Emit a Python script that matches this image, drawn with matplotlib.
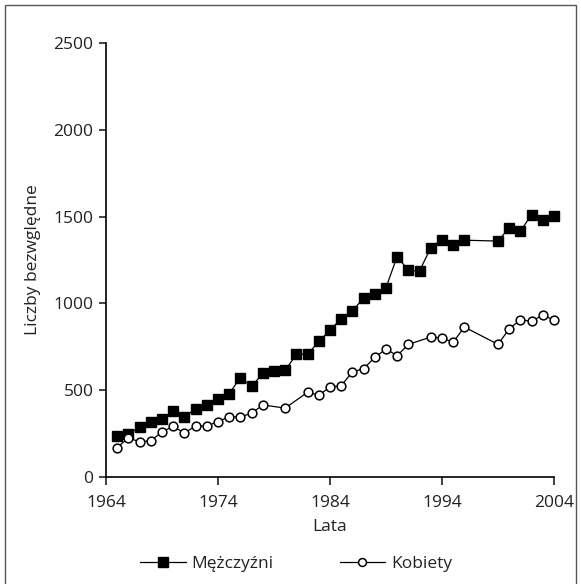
import matplotlib
matplotlib.use("Agg")
import matplotlib.pyplot as plt
from matplotlib.patches import Rectangle

plt.rcParams['font.family'] = ['Open Sans', 'DejaVu Sans']

men_years = [1965, 1966, 1967, 1968, 1969, 1970, 1971, 1972, 1973, 1974, 1975, 1976, 1977, 1978,
             1979, 1980, 1981, 1982, 1983, 1984, 1985, 1986, 1987, 1988, 1989, 1990, 1991, 1992,
             1993, 1994, 1995, 1996, 1999, 2000, 2001, 2002, 2003, 2004]
men_values = [238, 249, 286, 315, 332, 382, 347, 393, 413, 451, 480, 572, 522, 597,
              612, 614, 707, 707, 781, 845, 912, 958, 1029, 1055, 1091, 1270, 1190, 1187,
              1321, 1367, 1336, 1364, 1359, 1435, 1415, 1512, 1480, 1503]

women_years = [1965, 1966, 1967, 1968, 1969, 1970, 1971, 1972, 1973, 1974, 1975, 1976, 1977, 1978,
               1980, 1982, 1983, 1984, 1985, 1986, 1987, 1988, 1989, 1990, 1991,
               1993, 1994, 1995, 1996, 1999, 2000, 2001, 2002, 2003, 2004]
women_values = [169, 226, 202, 209, 259, 292, 253, 294, 294, 319, 347, 346, 367, 415,
                397, 488, 471, 518, 526, 605, 624, 689, 737, 699, 764,
                806, 801, 776, 864, 764, 853, 906, 897, 933, 904]

x_ticks = [1964, 1974, 1984, 1994, 2004]
y_ticks = [0, 500, 1000, 1500, 2000, 2500]

FS = 12.5

fig = plt.figure(figsize=(5.81, 5.84), dpi=100)
ax = fig.add_axes([0.1824, 0.1832, 0.9535 - 0.1824, 0.9264 - 0.1832])

ax.plot(men_years, men_values, color='black', lw=0.9, marker='s', ms=7.5,
        mfc='black', mec='black', label='Mężczyźni', clip_on=False)
ax.plot(women_years, women_values, color='black', lw=0.9, marker='o', ms=6.3,
        mfc='white', mec='black', mew=1.1, label='Kobiety', clip_on=False)

ax.set_xlim(1964, 2004)
ax.set_ylim(0, 2500)
ax.set_xticks(x_ticks)
ax.set_yticks(y_ticks)
for s in ['top', 'right']:
    ax.spines[s].set_visible(False)
for s in ['left', 'bottom']:
    ax.spines[s].set_linewidth(1.2)
ax.tick_params(axis='both', direction='out', length=5, width=1.2, labelsize=FS, colors='#222222', pad=4)
ax.tick_params(axis='x', length=6, pad=7)
ax.set_xlabel('Lata', fontsize=FS, labelpad=6, color='#222222')
ax.set_ylabel('Liczby bezwględne', fontsize=FS, labelpad=9, color='#222222')

leg = fig.legend(loc='center', bbox_to_anchor=(0.51, 0.034), ncol=2, frameon=False, fontsize=FS,
                 handlelength=2.6, columnspacing=3.8, handletextpad=0.35, markerscale=0.9)
for t in leg.get_texts():
    t.set_color('#222222')

fig.patches.append(Rectangle((5 / 581, -10 / 584), 571 / 581, 589 / 584, transform=fig.transFigure,
                             fill=False, edgecolor='#555555', lw=1.0))

fig.savefig('out.png', dpi=100)
